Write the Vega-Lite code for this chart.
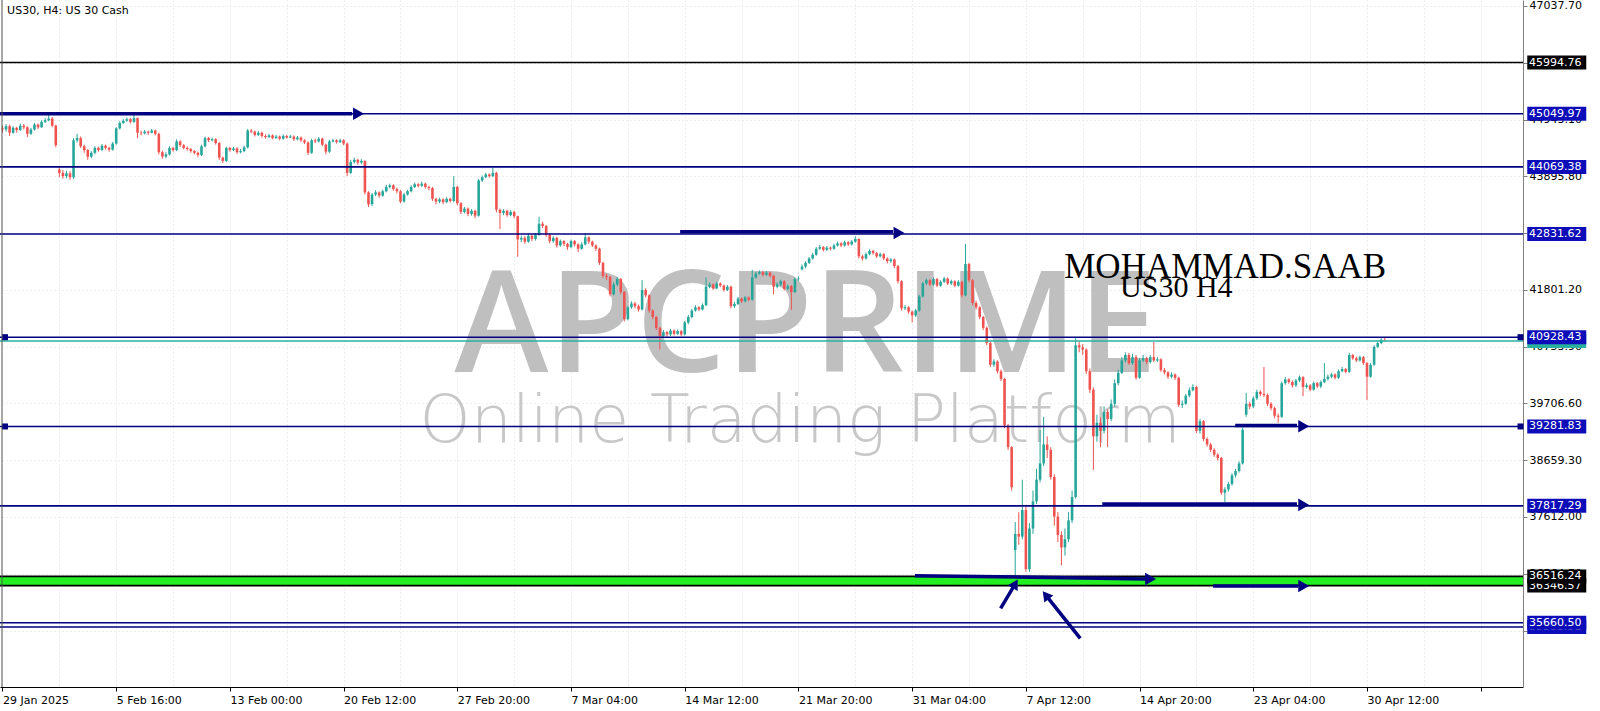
{
"$schema":"https://vega.github.io/schema/vega-lite/v6.json",
"width":1523,"height":687,
"autosize":{"type":"none"},
"padding":{"left":0,"top":0,"right":77,"bottom":24},
"background":"#ffffff",
"config":{"view":{"stroke":null}},
"resolve":{"axis":{"x":"independent","y":"independent"}},
"datasets":{
"bars":[
{"i":0,"o":44780,"h":44830,"l":44700,"c":44760},
{"i":1,"o":44760,"h":44860,"l":44720,"c":44820},
{"i":2,"o":44820,"h":44850,"l":44640,"c":44700},
{"i":3,"o":44700,"h":44820,"l":44680,"c":44790},
{"i":4,"o":44790,"h":44810,"l":44700,"c":44750},
{"i":5,"o":44750,"h":44870,"l":44730,"c":44830},
{"i":6,"o":44830,"h":44860,"l":44760,"c":44800},
{"i":7,"o":44800,"h":44820,"l":44620,"c":44680},
{"i":8,"o":44680,"h":44790,"l":44660,"c":44760},
{"i":9,"o":44760,"h":44880,"l":44740,"c":44850},
{"i":10,"o":44850,"h":44870,"l":44770,"c":44800},
{"i":11,"o":44800,"h":44930,"l":44790,"c":44900},
{"i":12,"o":44900,"h":44970,"l":44880,"c":44930},
{"i":13,"o":44930,"h":45030,"l":44910,"c":44960},
{"i":14,"o":44960,"h":44990,"l":44800,"c":44830},
{"i":15,"o":44830,"h":44850,"l":44430,"c":44470},
{"i":16,"o":44020,"h":44080,"l":43880,"c":43960},
{"i":17,"o":43960,"h":44010,"l":43850,"c":43900},
{"i":18,"o":43900,"h":44000,"l":43860,"c":43950},
{"i":19,"o":43950,"h":43990,"l":43830,"c":43880},
{"i":20,"o":43880,"h":44600,"l":43850,"c":44560},
{"i":21,"o":44560,"h":44680,"l":44520,"c":44600},
{"i":22,"o":44600,"h":44630,"l":44420,"c":44450},
{"i":23,"o":44450,"h":44480,"l":44330,"c":44380},
{"i":24,"o":44380,"h":44400,"l":44200,"c":44260},
{"i":25,"o":44260,"h":44360,"l":44230,"c":44330},
{"i":26,"o":44330,"h":44450,"l":44300,"c":44420},
{"i":27,"o":44420,"h":44440,"l":44350,"c":44380},
{"i":28,"o":44380,"h":44490,"l":44360,"c":44460},
{"i":29,"o":44460,"h":44480,"l":44390,"c":44420},
{"i":30,"o":44420,"h":44440,"l":44350,"c":44390},
{"i":31,"o":44390,"h":44530,"l":44370,"c":44500},
{"i":32,"o":44500,"h":44800,"l":44480,"c":44780},
{"i":33,"o":44780,"h":44910,"l":44760,"c":44880},
{"i":34,"o":44880,"h":44950,"l":44860,"c":44920},
{"i":35,"o":44920,"h":44980,"l":44900,"c":44950},
{"i":36,"o":44950,"h":44970,"l":44870,"c":44900},
{"i":37,"o":44900,"h":45030,"l":44880,"c":44970},
{"i":38,"o":44970,"h":44980,"l":44600,"c":44700},
{"i":39,"o":44700,"h":44740,"l":44650,"c":44690},
{"i":40,"o":44690,"h":44750,"l":44670,"c":44720},
{"i":41,"o":44720,"h":44740,"l":44660,"c":44700},
{"i":42,"o":44700,"h":44770,"l":44690,"c":44740},
{"i":43,"o":44740,"h":44760,"l":44650,"c":44680},
{"i":44,"o":44680,"h":44700,"l":44300,"c":44340},
{"i":45,"o":44340,"h":44370,"l":44220,"c":44260},
{"i":46,"o":44260,"h":44340,"l":44230,"c":44300},
{"i":47,"o":44300,"h":44450,"l":44280,"c":44420},
{"i":48,"o":44420,"h":44440,"l":44350,"c":44380},
{"i":49,"o":44380,"h":44580,"l":44360,"c":44540},
{"i":50,"o":44540,"h":44560,"l":44440,"c":44470},
{"i":51,"o":44470,"h":44490,"l":44390,"c":44420},
{"i":52,"o":44420,"h":44450,"l":44370,"c":44400},
{"i":53,"o":44400,"h":44420,"l":44330,"c":44360},
{"i":54,"o":44360,"h":44380,"l":44300,"c":44330},
{"i":55,"o":44330,"h":44350,"l":44250,"c":44290},
{"i":56,"o":44290,"h":44480,"l":44270,"c":44450},
{"i":57,"o":44450,"h":44630,"l":44430,"c":44600},
{"i":58,"o":44600,"h":44620,"l":44530,"c":44560},
{"i":59,"o":44560,"h":44610,"l":44540,"c":44580},
{"i":60,"o":44580,"h":44600,"l":44480,"c":44510},
{"i":61,"o":44510,"h":44530,"l":44200,"c":44240},
{"i":62,"o":44240,"h":44260,"l":44140,"c":44180},
{"i":63,"o":44180,"h":44440,"l":44160,"c":44420},
{"i":64,"o":44420,"h":44440,"l":44350,"c":44380},
{"i":65,"o":44380,"h":44440,"l":44360,"c":44410},
{"i":66,"o":44410,"h":44430,"l":44310,"c":44340},
{"i":67,"o":44340,"h":44400,"l":44320,"c":44360},
{"i":68,"o":44360,"h":44460,"l":44340,"c":44430},
{"i":69,"o":44430,"h":44770,"l":44410,"c":44740},
{"i":70,"o":44740,"h":44770,"l":44690,"c":44720},
{"i":71,"o":44720,"h":44740,"l":44630,"c":44660},
{"i":72,"o":44660,"h":44730,"l":44640,"c":44700},
{"i":73,"o":44700,"h":44720,"l":44610,"c":44640},
{"i":74,"o":44640,"h":44670,"l":44590,"c":44620},
{"i":75,"o":44620,"h":44680,"l":44600,"c":44650},
{"i":76,"o":44650,"h":44670,"l":44580,"c":44600},
{"i":77,"o":44600,"h":44660,"l":44590,"c":44630},
{"i":78,"o":44630,"h":44650,"l":44560,"c":44590},
{"i":79,"o":44590,"h":44670,"l":44570,"c":44640},
{"i":80,"o":44640,"h":44660,"l":44590,"c":44610},
{"i":81,"o":44610,"h":44660,"l":44600,"c":44630},
{"i":82,"o":44630,"h":44650,"l":44550,"c":44580},
{"i":83,"o":44580,"h":44640,"l":44560,"c":44610},
{"i":84,"o":44610,"h":44630,"l":44530,"c":44560},
{"i":85,"o":44560,"h":44580,"l":44490,"c":44520},
{"i":86,"o":44520,"h":44540,"l":44290,"c":44330},
{"i":87,"o":44330,"h":44590,"l":44310,"c":44560},
{"i":88,"o":44560,"h":44590,"l":44510,"c":44540},
{"i":89,"o":44540,"h":44620,"l":44520,"c":44590},
{"i":90,"o":44590,"h":44610,"l":44450,"c":44480},
{"i":91,"o":44480,"h":44500,"l":44300,"c":44350},
{"i":92,"o":44350,"h":44570,"l":44330,"c":44540},
{"i":93,"o":44540,"h":44590,"l":44520,"c":44560},
{"i":94,"o":44560,"h":44580,"l":44500,"c":44530},
{"i":95,"o":44530,"h":44590,"l":44510,"c":44560},
{"i":96,"o":44560,"h":44580,"l":44470,"c":44500},
{"i":97,"o":44500,"h":44520,"l":43900,"c":43960},
{"i":98,"o":43960,"h":44200,"l":43940,"c":44160},
{"i":99,"o":44160,"h":44240,"l":44130,"c":44200},
{"i":100,"o":44200,"h":44220,"l":44110,"c":44150},
{"i":101,"o":44150,"h":44210,"l":44120,"c":44180},
{"i":102,"o":44180,"h":44190,"l":43560,"c":43600},
{"i":103,"o":43600,"h":43620,"l":43330,"c":43380},
{"i":104,"o":43380,"h":43590,"l":43350,"c":43560},
{"i":105,"o":43560,"h":43640,"l":43530,"c":43600},
{"i":106,"o":43600,"h":43620,"l":43500,"c":43540},
{"i":107,"o":43540,"h":43650,"l":43520,"c":43620},
{"i":108,"o":43620,"h":43740,"l":43600,"c":43700},
{"i":109,"o":43700,"h":43760,"l":43670,"c":43730},
{"i":110,"o":43730,"h":43750,"l":43630,"c":43660},
{"i":111,"o":43660,"h":43690,"l":43580,"c":43620},
{"i":112,"o":43620,"h":43640,"l":43400,"c":43430},
{"i":113,"o":43430,"h":43590,"l":43410,"c":43560},
{"i":114,"o":43560,"h":43650,"l":43540,"c":43620},
{"i":115,"o":43620,"h":43730,"l":43600,"c":43700},
{"i":116,"o":43700,"h":43780,"l":43680,"c":43750},
{"i":117,"o":43750,"h":43770,"l":43690,"c":43720},
{"i":118,"o":43720,"h":43800,"l":43700,"c":43760},
{"i":119,"o":43760,"h":43780,"l":43670,"c":43700},
{"i":120,"o":43700,"h":43720,"l":43640,"c":43680},
{"i":121,"o":43680,"h":43700,"l":43440,"c":43480},
{"i":122,"o":43480,"h":43500,"l":43380,"c":43430},
{"i":123,"o":43430,"h":43500,"l":43400,"c":43470},
{"i":124,"o":43470,"h":43490,"l":43380,"c":43420},
{"i":125,"o":43420,"h":43510,"l":43400,"c":43480},
{"i":126,"o":43480,"h":43500,"l":43410,"c":43440},
{"i":127,"o":43440,"h":43900,"l":43420,"c":43700},
{"i":128,"o":43700,"h":43720,"l":43360,"c":43400},
{"i":129,"o":43400,"h":43420,"l":43200,"c":43240},
{"i":130,"o":43240,"h":43330,"l":43210,"c":43300},
{"i":131,"o":43300,"h":43320,"l":43160,"c":43200},
{"i":132,"o":43200,"h":43290,"l":43170,"c":43260},
{"i":133,"o":43260,"h":43280,"l":43120,"c":43170},
{"i":134,"o":43170,"h":43850,"l":43150,"c":43820},
{"i":135,"o":43820,"h":43910,"l":43790,"c":43880},
{"i":136,"o":43880,"h":43960,"l":43860,"c":43930},
{"i":137,"o":43930,"h":43950,"l":43870,"c":43900},
{"i":138,"o":43900,"h":44050,"l":43880,"c":43960},
{"i":139,"o":43960,"h":43980,"l":43230,"c":43280},
{"i":140,"o":43280,"h":43300,"l":42920,"c":43220},
{"i":141,"o":43220,"h":43290,"l":43180,"c":43260},
{"i":142,"o":43260,"h":43280,"l":43150,"c":43180},
{"i":143,"o":43180,"h":43270,"l":43160,"c":43240},
{"i":144,"o":43240,"h":43260,"l":43120,"c":43160},
{"i":145,"o":43160,"h":43170,"l":42410,"c":42730},
{"i":146,"o":42730,"h":42800,"l":42680,"c":42760},
{"i":147,"o":42760,"h":42790,"l":42650,"c":42690},
{"i":148,"o":42690,"h":42830,"l":42670,"c":42800},
{"i":149,"o":42800,"h":42820,"l":42700,"c":42740},
{"i":150,"o":42740,"h":42850,"l":42710,"c":42820},
{"i":151,"o":42820,"h":43150,"l":42800,"c":43020},
{"i":152,"o":43020,"h":43060,"l":42940,"c":42980},
{"i":153,"o":42980,"h":43000,"l":42780,"c":42820},
{"i":154,"o":42820,"h":42840,"l":42660,"c":42700},
{"i":155,"o":42700,"h":42790,"l":42670,"c":42760},
{"i":156,"o":42760,"h":42780,"l":42580,"c":42620},
{"i":157,"o":42620,"h":42730,"l":42600,"c":42700},
{"i":158,"o":42700,"h":42720,"l":42610,"c":42650},
{"i":159,"o":42650,"h":42670,"l":42540,"c":42590},
{"i":160,"o":42590,"h":42730,"l":42570,"c":42700},
{"i":161,"o":42700,"h":42720,"l":42600,"c":42640},
{"i":162,"o":42640,"h":42660,"l":42500,"c":42560},
{"i":163,"o":42560,"h":42680,"l":42540,"c":42640},
{"i":164,"o":42640,"h":42850,"l":42620,"c":42770},
{"i":165,"o":42770,"h":42790,"l":42650,"c":42690},
{"i":166,"o":42690,"h":42710,"l":42590,"c":42620},
{"i":167,"o":42620,"h":42640,"l":42520,"c":42560},
{"i":168,"o":42560,"h":42580,"l":42260,"c":42300},
{"i":169,"o":42300,"h":42320,"l":42020,"c":42060},
{"i":170,"o":42060,"h":42100,"l":41980,"c":42040},
{"i":171,"o":42040,"h":42060,"l":41680,"c":41720},
{"i":172,"o":41720,"h":41940,"l":41700,"c":41900},
{"i":173,"o":41900,"h":42040,"l":41870,"c":42000},
{"i":174,"o":42000,"h":42020,"l":41720,"c":41760},
{"i":175,"o":41760,"h":41780,"l":41220,"c":41260},
{"i":176,"o":41260,"h":41510,"l":41240,"c":41480},
{"i":177,"o":41480,"h":41590,"l":41450,"c":41550},
{"i":178,"o":41550,"h":41580,"l":41460,"c":41500},
{"i":179,"o":41500,"h":41530,"l":41400,"c":41440},
{"i":180,"o":41440,"h":41980,"l":41420,"c":41800},
{"i":181,"o":41800,"h":41830,"l":41660,"c":41700},
{"i":182,"o":41700,"h":41720,"l":41380,"c":41420},
{"i":183,"o":41420,"h":41440,"l":41260,"c":41300},
{"i":184,"o":41300,"h":41320,"l":41060,"c":41100},
{"i":185,"o":41100,"h":41120,"l":40700,"c":40950},
{"i":186,"o":40950,"h":41060,"l":40930,"c":41020},
{"i":187,"o":41020,"h":41040,"l":40940,"c":40980},
{"i":188,"o":40980,"h":41080,"l":40950,"c":41050},
{"i":189,"o":41050,"h":41070,"l":40960,"c":40990},
{"i":190,"o":40990,"h":41070,"l":40970,"c":41040},
{"i":191,"o":41040,"h":41060,"l":40950,"c":40980},
{"i":192,"o":40980,"h":41230,"l":40960,"c":41200},
{"i":193,"o":41200,"h":41340,"l":41170,"c":41300},
{"i":194,"o":41300,"h":41450,"l":41280,"c":41420},
{"i":195,"o":41420,"h":41520,"l":41400,"c":41480},
{"i":196,"o":41480,"h":41500,"l":41410,"c":41440},
{"i":197,"o":41440,"h":41550,"l":41420,"c":41520},
{"i":198,"o":41520,"h":42030,"l":41500,"c":41860},
{"i":199,"o":41860,"h":41940,"l":41830,"c":41900},
{"i":200,"o":41900,"h":41920,"l":41800,"c":41830},
{"i":201,"o":41830,"h":41950,"l":41810,"c":41920},
{"i":202,"o":41920,"h":41940,"l":41850,"c":41880},
{"i":203,"o":41880,"h":41900,"l":41770,"c":41800},
{"i":204,"o":41800,"h":41890,"l":41780,"c":41860},
{"i":205,"o":41860,"h":41880,"l":41460,"c":41500},
{"i":206,"o":41500,"h":41580,"l":41470,"c":41540},
{"i":207,"o":41540,"h":41670,"l":41520,"c":41640},
{"i":208,"o":41640,"h":41660,"l":41560,"c":41590},
{"i":209,"o":41590,"h":41690,"l":41570,"c":41660},
{"i":210,"o":41660,"h":41680,"l":41590,"c":41620},
{"i":211,"o":41620,"h":42170,"l":41600,"c":42030},
{"i":212,"o":42030,"h":42130,"l":42010,"c":42100},
{"i":213,"o":42100,"h":42160,"l":42080,"c":42130},
{"i":214,"o":42130,"h":42150,"l":42050,"c":42080},
{"i":215,"o":42080,"h":42150,"l":42060,"c":42120},
{"i":216,"o":42120,"h":42140,"l":42030,"c":42060},
{"i":217,"o":42060,"h":42080,"l":41720,"c":41860},
{"i":218,"o":41860,"h":41940,"l":41830,"c":41900},
{"i":219,"o":41900,"h":41990,"l":41870,"c":41960},
{"i":220,"o":41960,"h":41980,"l":41790,"c":41820},
{"i":221,"o":41820,"h":41900,"l":41790,"c":41870},
{"i":222,"o":41870,"h":41890,"l":41430,"c":41760},
{"i":223,"o":41760,"h":42030,"l":41740,"c":42000},
{"i":224,"o":42000,"h":42050,"l":41970,"c":42010},
{"i":225,"o":42180,"h":42270,"l":42160,"c":42230},
{"i":226,"o":42230,"h":42330,"l":42200,"c":42300},
{"i":227,"o":42300,"h":42410,"l":42280,"c":42380},
{"i":228,"o":42380,"h":42480,"l":42360,"c":42450},
{"i":229,"o":42450,"h":42590,"l":42430,"c":42560},
{"i":230,"o":42560,"h":42630,"l":42540,"c":42590},
{"i":231,"o":42590,"h":42610,"l":42510,"c":42540},
{"i":232,"o":42540,"h":42610,"l":42520,"c":42580},
{"i":233,"o":42580,"h":42600,"l":42530,"c":42560},
{"i":234,"o":42560,"h":42650,"l":42540,"c":42620},
{"i":235,"o":42620,"h":42690,"l":42600,"c":42660},
{"i":236,"o":42660,"h":42680,"l":42590,"c":42620},
{"i":237,"o":42620,"h":42710,"l":42600,"c":42680},
{"i":238,"o":42680,"h":42700,"l":42610,"c":42640},
{"i":239,"o":42640,"h":42720,"l":42620,"c":42690},
{"i":240,"o":42690,"h":42790,"l":42670,"c":42740},
{"i":241,"o":42740,"h":42750,"l":42380,"c":42420},
{"i":242,"o":42420,"h":42450,"l":42340,"c":42380},
{"i":243,"o":42380,"h":42490,"l":42360,"c":42460},
{"i":244,"o":42460,"h":42550,"l":42440,"c":42520},
{"i":245,"o":42520,"h":42540,"l":42450,"c":42480},
{"i":246,"o":42480,"h":42500,"l":42390,"c":42420},
{"i":247,"o":42420,"h":42490,"l":42400,"c":42460},
{"i":248,"o":42460,"h":42480,"l":42350,"c":42380},
{"i":249,"o":42380,"h":42400,"l":42290,"c":42330},
{"i":250,"o":42330,"h":42390,"l":42300,"c":42360},
{"i":251,"o":42360,"h":42380,"l":42200,"c":42240},
{"i":252,"o":42240,"h":42260,"l":41920,"c":41960},
{"i":253,"o":41960,"h":41980,"l":41420,"c":41460},
{"i":254,"o":41460,"h":41520,"l":41430,"c":41480},
{"i":255,"o":41480,"h":41500,"l":41360,"c":41400},
{"i":256,"o":41400,"h":41420,"l":41200,"c":41330},
{"i":257,"o":41330,"h":41450,"l":41300,"c":41420},
{"i":258,"o":41420,"h":41710,"l":41400,"c":41680},
{"i":259,"o":41680,"h":41950,"l":41660,"c":41920},
{"i":260,"o":41920,"h":42010,"l":41890,"c":41980},
{"i":261,"o":41980,"h":42000,"l":41870,"c":41900},
{"i":262,"o":41900,"h":42030,"l":41880,"c":42000},
{"i":263,"o":42000,"h":42020,"l":41850,"c":41880},
{"i":264,"o":41880,"h":41980,"l":41860,"c":41950},
{"i":265,"o":41950,"h":42040,"l":41930,"c":42010},
{"i":266,"o":42010,"h":42030,"l":41890,"c":41920},
{"i":267,"o":41920,"h":41990,"l":41890,"c":41960},
{"i":268,"o":41960,"h":41980,"l":41850,"c":41880},
{"i":269,"o":41880,"h":41980,"l":41860,"c":41950},
{"i":270,"o":41950,"h":41970,"l":41660,"c":41700},
{"i":271,"o":41700,"h":42650,"l":41680,"c":42280},
{"i":272,"o":42280,"h":42300,"l":41940,"c":41980},
{"i":273,"o":41980,"h":42000,"l":41520,"c":41560},
{"i":274,"o":41560,"h":41600,"l":41440,"c":41480},
{"i":275,"o":41480,"h":41500,"l":41260,"c":41300},
{"i":276,"o":41300,"h":41320,"l":41060,"c":41100},
{"i":277,"o":41100,"h":41130,"l":40780,"c":40820},
{"i":278,"o":40820,"h":40850,"l":40380,"c":40420},
{"i":279,"o":40420,"h":40520,"l":40380,"c":40480},
{"i":280,"o":40480,"h":40500,"l":40260,"c":40300},
{"i":281,"o":40300,"h":40330,"l":40120,"c":40160},
{"i":282,"o":40160,"h":40180,"l":39250,"c":39300},
{"i":283,"o":39300,"h":39330,"l":38850,"c":38900},
{"i":284,"o":38900,"h":38920,"l":38100,"c":38160},
{"i":285,"o":37000,"h":37520,"l":36480,"c":37300},
{"i":286,"o":37300,"h":37700,"l":37100,"c":37250},
{"i":287,"o":37250,"h":38300,"l":37200,"c":37740},
{"i":288,"o":37740,"h":37800,"l":36600,"c":36650},
{"i":289,"o":36650,"h":37500,"l":36600,"c":37400},
{"i":290,"o":37400,"h":38100,"l":37300,"c":37900},
{"i":291,"o":37900,"h":38500,"l":37850,"c":38300},
{"i":292,"o":38300,"h":39220,"l":38250,"c":38600},
{"i":293,"o":38600,"h":39460,"l":38550,"c":38950},
{"i":294,"o":38950,"h":39100,"l":38700,"c":38850},
{"i":295,"o":38850,"h":38900,"l":38300,"c":38350},
{"i":296,"o":38350,"h":38400,"l":37450,"c":37620},
{"i":297,"o":37620,"h":37700,"l":37150,"c":37280},
{"i":298,"o":37280,"h":37350,"l":36720,"c":37050},
{"i":299,"o":37050,"h":37400,"l":36900,"c":37200},
{"i":300,"o":37200,"h":37700,"l":37150,"c":37550},
{"i":301,"o":37550,"h":38100,"l":37500,"c":37980},
{"i":302,"o":37980,"h":40910,"l":37950,"c":40780},
{"i":303,"o":40780,"h":40850,"l":40650,"c":40740},
{"i":304,"o":40740,"h":40800,"l":40600,"c":40700},
{"i":305,"o":40700,"h":40720,"l":40250,"c":40300},
{"i":306,"o":40300,"h":40350,"l":39900,"c":39960},
{"i":307,"o":39960,"h":40000,"l":38480,"c":39100},
{"i":308,"o":39100,"h":39500,"l":39000,"c":39350},
{"i":309,"o":39350,"h":39450,"l":38900,"c":39200},
{"i":310,"o":39200,"h":39650,"l":39150,"c":39550},
{"i":311,"o":39550,"h":39600,"l":38900,"c":39420},
{"i":312,"o":39420,"h":39780,"l":39380,"c":39700},
{"i":313,"o":39700,"h":40150,"l":39650,"c":40080},
{"i":314,"o":40080,"h":40330,"l":40040,"c":40270},
{"i":315,"o":40270,"h":40560,"l":40250,"c":40500},
{"i":316,"o":40500,"h":40650,"l":40460,"c":40600},
{"i":317,"o":40600,"h":40640,"l":40420,"c":40450},
{"i":318,"o":40450,"h":40620,"l":40420,"c":40560},
{"i":319,"o":40560,"h":40600,"l":40140,"c":40180},
{"i":320,"o":40180,"h":40540,"l":40160,"c":40500},
{"i":321,"o":40500,"h":40600,"l":40470,"c":40540},
{"i":322,"o":40540,"h":40570,"l":40430,"c":40470},
{"i":323,"o":40470,"h":40600,"l":40440,"c":40560},
{"i":324,"o":40560,"h":40840,"l":40470,"c":40500},
{"i":325,"o":40500,"h":40560,"l":40470,"c":40520},
{"i":326,"o":40520,"h":40540,"l":40290,"c":40320},
{"i":327,"o":40320,"h":40360,"l":40240,"c":40280},
{"i":328,"o":40280,"h":40300,"l":40160,"c":40200},
{"i":329,"o":40200,"h":40280,"l":40170,"c":40240},
{"i":330,"o":40240,"h":40260,"l":40140,"c":40180},
{"i":331,"o":40180,"h":40200,"l":39640,"c":39680},
{"i":332,"o":39680,"h":39760,"l":39620,"c":39700},
{"i":333,"o":39700,"h":39880,"l":39680,"c":39850},
{"i":334,"o":39850,"h":40000,"l":39820,"c":39950},
{"i":335,"o":39950,"h":40060,"l":39930,"c":40010},
{"i":336,"o":40010,"h":40030,"l":39160,"c":39200},
{"i":337,"o":39200,"h":39420,"l":39150,"c":39380},
{"i":338,"o":39380,"h":39400,"l":39010,"c":39050},
{"i":339,"o":39050,"h":39080,"l":38910,"c":38950},
{"i":340,"o":38950,"h":38980,"l":38810,"c":38850},
{"i":341,"o":38850,"h":38880,"l":38720,"c":38760},
{"i":342,"o":38760,"h":38790,"l":38650,"c":38700},
{"i":343,"o":38700,"h":38720,"l":38020,"c":38060},
{"i":344,"o":38060,"h":38160,"l":37890,"c":38120},
{"i":345,"o":38120,"h":38260,"l":38080,"c":38220},
{"i":346,"o":38220,"h":38420,"l":38190,"c":38380},
{"i":347,"o":38380,"h":38500,"l":38340,"c":38460},
{"i":348,"o":38460,"h":38640,"l":38430,"c":38600},
{"i":349,"o":38600,"h":39260,"l":38580,"c":39220},
{"i":350,"o":39500,"h":39900,"l":39460,"c":39700},
{"i":351,"o":39700,"h":39740,"l":39600,"c":39650},
{"i":352,"o":39650,"h":39840,"l":39620,"c":39800},
{"i":353,"o":39800,"h":39960,"l":39770,"c":39920},
{"i":354,"o":39920,"h":39950,"l":39840,"c":39880},
{"i":355,"o":39880,"h":40380,"l":39820,"c":39860},
{"i":356,"o":39860,"h":39890,"l":39660,"c":39700},
{"i":357,"o":39700,"h":39730,"l":39580,"c":39620},
{"i":358,"o":39620,"h":39650,"l":39430,"c":39480},
{"i":359,"o":39480,"h":39520,"l":39350,"c":39460},
{"i":360,"o":39460,"h":40110,"l":39440,"c":40080},
{"i":361,"o":40080,"h":40190,"l":40050,"c":40150},
{"i":362,"o":40150,"h":40170,"l":40070,"c":40100},
{"i":363,"o":40100,"h":40130,"l":40000,"c":40040},
{"i":364,"o":40040,"h":40160,"l":40010,"c":40130},
{"i":365,"o":40130,"h":40220,"l":40100,"c":40190},
{"i":366,"o":40190,"h":40210,"l":39840,"c":40010},
{"i":367,"o":40010,"h":40080,"l":39980,"c":40040},
{"i":368,"o":40040,"h":40060,"l":39930,"c":39960},
{"i":369,"o":39960,"h":40110,"l":39940,"c":40080},
{"i":370,"o":40080,"h":40100,"l":39990,"c":40020},
{"i":371,"o":40020,"h":40130,"l":39990,"c":40100},
{"i":372,"o":40100,"h":40450,"l":40080,"c":40160},
{"i":373,"o":40160,"h":40240,"l":40130,"c":40200},
{"i":374,"o":40200,"h":40270,"l":40170,"c":40240},
{"i":375,"o":40240,"h":40260,"l":40150,"c":40180},
{"i":376,"o":40180,"h":40330,"l":40160,"c":40300},
{"i":377,"o":40300,"h":40380,"l":40280,"c":40340},
{"i":378,"o":40340,"h":40360,"l":40260,"c":40290},
{"i":379,"o":40290,"h":40640,"l":40270,"c":40600},
{"i":380,"o":40600,"h":40620,"l":40510,"c":40540},
{"i":381,"o":40540,"h":40570,"l":40470,"c":40500},
{"i":382,"o":40500,"h":40590,"l":40480,"c":40560},
{"i":383,"o":40560,"h":40580,"l":40420,"c":40450},
{"i":384,"o":40450,"h":40470,"l":39770,"c":40200},
{"i":385,"o":40200,"h":40450,"l":40180,"c":40420},
{"i":386,"o":40420,"h":40780,"l":40400,"c":40750},
{"i":387,"o":40750,"h":40850,"l":40730,"c":40820},
{"i":388,"o":40820,"h":40910,"l":40800,"c":40880},
{"i":389,"o":40880,"h":40930,"l":40850,"c":40870}
],
"levels":[
{"p":45994.76,"k":"black","z":1},
{"p":45049.97,"k":"navy","z":1},
{"p":44069.38,"k":"navy","z":1},
{"p":42831.62,"k":"navy","z":1},
{"p":40858.3,"k":"teal","z":0},
{"p":40928.43,"k":"navy","z":1},
{"p":39281.83,"k":"navy","z":1},
{"p":37817.29,"k":"navy","z":1},
{"p":36346.57,"k":"black","z":0},
{"p":36516.24,"k":"black","z":1},
{"p":35583.51,"k":"navy","z":0},
{"p":35660.5,"k":"navy","z":1}
],
"sq":[{"p":40928.43},{"p":39281.83}]
},
"layer":[
{"data":{"values":[{}]},"mark":{"type":"text","text":"APCPRIME","font":"Open Sans","fontWeight":600,"fontSize":142,"align":"center","baseline":"alphabetic","color":"#bfbfbf"},"encoding":{"x":{"datum":226.1,"axis":null},"y":{"datum":40286,"axis":null}}},
{"data":{"values":[{}]},"mark":{"type":"text","text":"Online Trading Platform","font":"DejaVu Sans","fontWeight":200,"fontSize":65,"align":"center","baseline":"alphabetic","color":"#c8c8c8"},"encoding":{"x":{"datum":224.5,"axis":null},"y":{"datum":38995,"axis":null}}},
{"data":{"name":"bars"},"mark":{"type":"rule","strokeWidth":1},
 "encoding":{
  "x":{"field":"i","type":"quantitative","scale":{"domain":[-0.7,427.9],"nice":false,"zero":false},
   "axis":{"orient":"bottom","title":null,"values":[0,16,32,48,64,80,96,112,128,144,160,176,192,208,224,240,256,272,288,304,320,336,352,368,384,400,416],
    "labelExpr":"datum.value % 32 === 0 ? ['29 Jan 2025','5 Feb 16:00','13 Feb 00:00','20 Feb 12:00','27 Feb 20:00','7 Mar 04:00','14 Mar 12:00','21 Mar 20:00','31 Mar 04:00','7 Apr 12:00','14 Apr 20:00','23 Apr 04:00','30 Apr 12:00','',''][datum.value/32] : ''",
    "labelAlign":"left","labelPadding":3,"labelFont":"DejaVu Sans","labelFontSize":11,"labelColor":"#000000",
    "tickColor":"#000000","tickSize":4,"tickOpacity":{"condition":{"test":"datum.value % 32 === 0","value":1},"value":0},
    "domainColor":"#000000","grid":true,"gridColor":"#dcdcdc","gridDash":[1,3],
    "labelOverlap":false,"labelFlush":false,"labelBound":false}},
  "y":{"field":"l","type":"quantitative","scale":{"domain":[34476,47148],"nice":false,"zero":false},
   "axis":{"orient":"right","title":null,"values":[47037.7,45990.4,44943.1,43895.8,42848.5,41801.2,40753.9,39706.6,38659.3,37612,36564.7,35517.4],
    "format":".2f","labelFont":"DejaVu Sans","labelFontSize":11,"labelColor":"#000000","labelPadding":2,
    "tickColor":"#808080","tickSize":4,"domainColor":"#808080","grid":true,"gridColor":"#dcdcdc","gridDash":[1,3],
    "labelOverlap":false,"labelFlush":false,"labelBound":false}},
  "y2":{"field":"h"},
  "color":{"condition":{"test":"datum.c >= datum.o","value":"#26a69a"},"value":"#ef5350"}
 }},
{"data":{"name":"bars"},"mark":{"type":"rule","strokeWidth":2.6},
 "encoding":{"x":{"field":"i","type":"quantitative","axis":null},"y":{"field":"o","type":"quantitative","axis":null},"y2":{"field":"c"},
  "color":{"condition":{"test":"datum.c >= datum.o","value":"#26a69a"},"value":"#ef5350"}}},
{"data":{"values":[{}]},"mark":{"type":"rect","color":"#22ee22"},"encoding":{"x":{"datum":-0.7,"axis":null},"x2":{"datum":427.9},"y":{"datum":36346.57,"axis":null},"y2":{"datum":36516.24}}},
{"data":{"name":"levels"},"mark":{"type":"rule","strokeWidth":1.6},"encoding":{"y":{"field":"p","type":"quantitative","axis":null},"stroke":{"field":"k","type":"nominal","scale":{"domain":["black","navy","teal"],"range":["#000000","#000080","#2ab0a0"]},"legend":null}}},
{"data":{"name":"sq"},"mark":{"type":"square","size":36,"color":"#000080","filled":true,"opacity":1},"encoding":{"x":{"datum":0.7,"axis":null},"y":{"field":"p","type":"quantitative","axis":null}}},
{"data":{"name":"sq"},"mark":{"type":"square","size":36,"color":"#000080","filled":true,"opacity":1},"encoding":{"x":{"datum":427.2,"axis":null},"y":{"field":"p","type":"quantitative","axis":null}}},
{"data":{"values":[{}]},"mark":{"type":"rule","color":"#000080","strokeWidth":3.5},"encoding":{"x":{"datum":-0.7,"axis":null},"x2":{"datum":98.4},"y":{"datum":45049.97,"axis":null},"y2":{"datum":45049.97}}},
{"data":{"values":[{}]},"mark":{"type":"point","shape":"triangle-right","size":160,"filled":true,"color":"#000080","opacity":1},"encoding":{"x":{"datum":100.2,"axis":null},"y":{"datum":45049.97,"axis":null}}},
{"data":{"values":[{}]},"mark":{"type":"rule","color":"#000080","strokeWidth":3.5},"encoding":{"x":{"datum":190.7,"axis":null},"x2":{"datum":250.6},"y":{"datum":42875,"axis":null},"y2":{"datum":42875}}},
{"data":{"values":[{}]},"mark":{"type":"point","shape":"triangle-right","size":160,"filled":true,"color":"#000080","opacity":1},"encoding":{"x":{"datum":252.3,"axis":null},"y":{"datum":42850,"axis":null}}},
{"data":{"values":[{}]},"mark":{"type":"rule","color":"#000080","strokeWidth":3.5},"encoding":{"x":{"datum":346.9,"axis":null},"x2":{"datum":364.3},"y":{"datum":39300,"axis":null},"y2":{"datum":39300}}},
{"data":{"values":[{}]},"mark":{"type":"point","shape":"triangle-right","size":160,"filled":true,"color":"#000080","opacity":1},"encoding":{"x":{"datum":366.2,"axis":null},"y":{"datum":39285,"axis":null}}},
{"data":{"values":[{}]},"mark":{"type":"rule","color":"#000080","strokeWidth":3.5},"encoding":{"x":{"datum":309.5,"axis":null},"x2":{"datum":364.3},"y":{"datum":37850,"axis":null},"y2":{"datum":37850}}},
{"data":{"values":[{}]},"mark":{"type":"point","shape":"triangle-right","size":160,"filled":true,"color":"#000080","opacity":1},"encoding":{"x":{"datum":366.2,"axis":null},"y":{"datum":37835,"axis":null}}},
{"data":{"values":[{}]},"mark":{"type":"rule","color":"#000080","strokeWidth":3.5},"encoding":{"x":{"datum":256.8,"axis":null},"x2":{"datum":322.1},"y":{"datum":36530,"axis":null},"y2":{"datum":36470}}},
{"data":{"values":[{}]},"mark":{"type":"point","shape":"triangle-right","size":160,"filled":true,"color":"#000080","opacity":1},"encoding":{"x":{"datum":323.1,"axis":null},"y":{"datum":36468,"axis":null}}},
{"data":{"values":[{}]},"mark":{"type":"rule","color":"#000080","strokeWidth":3.5},"encoding":{"x":{"datum":340.7,"axis":null},"x2":{"datum":364.6},"y":{"datum":36339,"axis":null},"y2":{"datum":36339}}},
{"data":{"values":[{}]},"mark":{"type":"point","shape":"triangle-right","size":160,"filled":true,"color":"#000080","opacity":1},"encoding":{"x":{"datum":366.2,"axis":null},"y":{"datum":36339,"axis":null}}},
{"data":{"values":[{}]},"mark":{"type":"rule","color":"#000080","strokeWidth":3.5},"encoding":{"x":{"datum":280.9,"axis":null},"x2":{"datum":285.0},"y":{"datum":35927,"axis":null},"y2":{"datum":36378}}},
{"data":{"values":[{}]},"mark":{"type":"point","shape":"triangle-up","size":130,"angle":30,"filled":true,"color":"#000080","opacity":1},"encoding":{"x":{"datum":285.0,"axis":null},"y":{"datum":36378,"axis":null}}},
{"data":{"values":[{}]},"mark":{"type":"rule","color":"#000080","strokeWidth":3.5},"encoding":{"x":{"datum":303.3,"axis":null},"x2":{"datum":293.6},"y":{"datum":35374,"axis":null},"y2":{"datum":36171}}},
{"data":{"values":[{}]},"mark":{"type":"point","shape":"triangle-up","size":130,"angle":322,"filled":true,"color":"#000080","opacity":1},"encoding":{"x":{"datum":293.6,"axis":null},"y":{"datum":36171,"axis":null}}},
{"data":{"values":[{}]},"mark":{"type":"text","text":"MOHAMMAD.SAAB","font":"Liberation Serif","fontSize":35,"align":"left","baseline":"alphabetic","color":"#000000"},"encoding":{"x":{"datum":298.8,"axis":null},"y":{"datum":42020,"axis":null}}},
{"data":{"values":[{}]},"mark":{"type":"text","text":"US30 H4","font":"Liberation Serif","fontSize":30,"align":"left","baseline":"alphabetic","color":"#000000"},"encoding":{"x":{"datum":314.5,"axis":null},"y":{"datum":41670,"axis":null}}},
{"data":{"name":"levels"},"transform":[{"filter":"datum.z == 0"}],"mark":{"type":"tick","orient":"horizontal","size":59,"thickness":14,"opacity":1},"encoding":{"x":{"datum":437.4,"axis":null},"y":{"field":"p","type":"quantitative","axis":null},"fill":{"field":"k","type":"nominal","scale":{"domain":["black","navy","teal"],"range":["#000000","#0c0cb8","#2ab0a0"]},"legend":null}}},
{"data":{"name":"levels"},"transform":[{"filter":"datum.z == 0"}],"mark":{"type":"text","align":"left","baseline":"middle","font":"DejaVu Sans","fontSize":11,"color":"#ffffff"},"encoding":{"x":{"datum":429.6,"axis":null},"y":{"field":"p","type":"quantitative","axis":null},"text":{"field":"p","type":"quantitative","format":".2f"}}},
{"data":{"name":"levels"},"transform":[{"filter":"datum.z == 1"}],"mark":{"type":"tick","orient":"horizontal","size":59,"thickness":14,"opacity":1},"encoding":{"x":{"datum":437.4,"axis":null},"y":{"field":"p","type":"quantitative","axis":null},"fill":{"field":"k","type":"nominal","scale":{"domain":["black","navy","teal"],"range":["#000000","#0c0cb8","#2ab0a0"]},"legend":null}}},
{"data":{"name":"levels"},"transform":[{"filter":"datum.z == 1"}],"mark":{"type":"text","align":"left","baseline":"middle","font":"DejaVu Sans","fontSize":11,"color":"#ffffff"},"encoding":{"x":{"datum":429.6,"axis":null},"y":{"field":"p","type":"quantitative","axis":null},"text":{"field":"p","type":"quantitative","format":".2f"}}},
{"data":{"values":[{}]},"mark":{"type":"text","text":"US30, H4:  US 30 Cash","font":"DejaVu Sans","fontSize":11,"align":"left","baseline":"middle","color":"#000000"},"encoding":{"x":{"datum":1.3,"axis":null},"y":{"datum":46945,"axis":null}}},
{"data":{"values":[{}]},"mark":{"type":"rule","color":"#555555","strokeWidth":1},"encoding":{"x":{"datum":-0.14,"axis":null}}}
]
}
